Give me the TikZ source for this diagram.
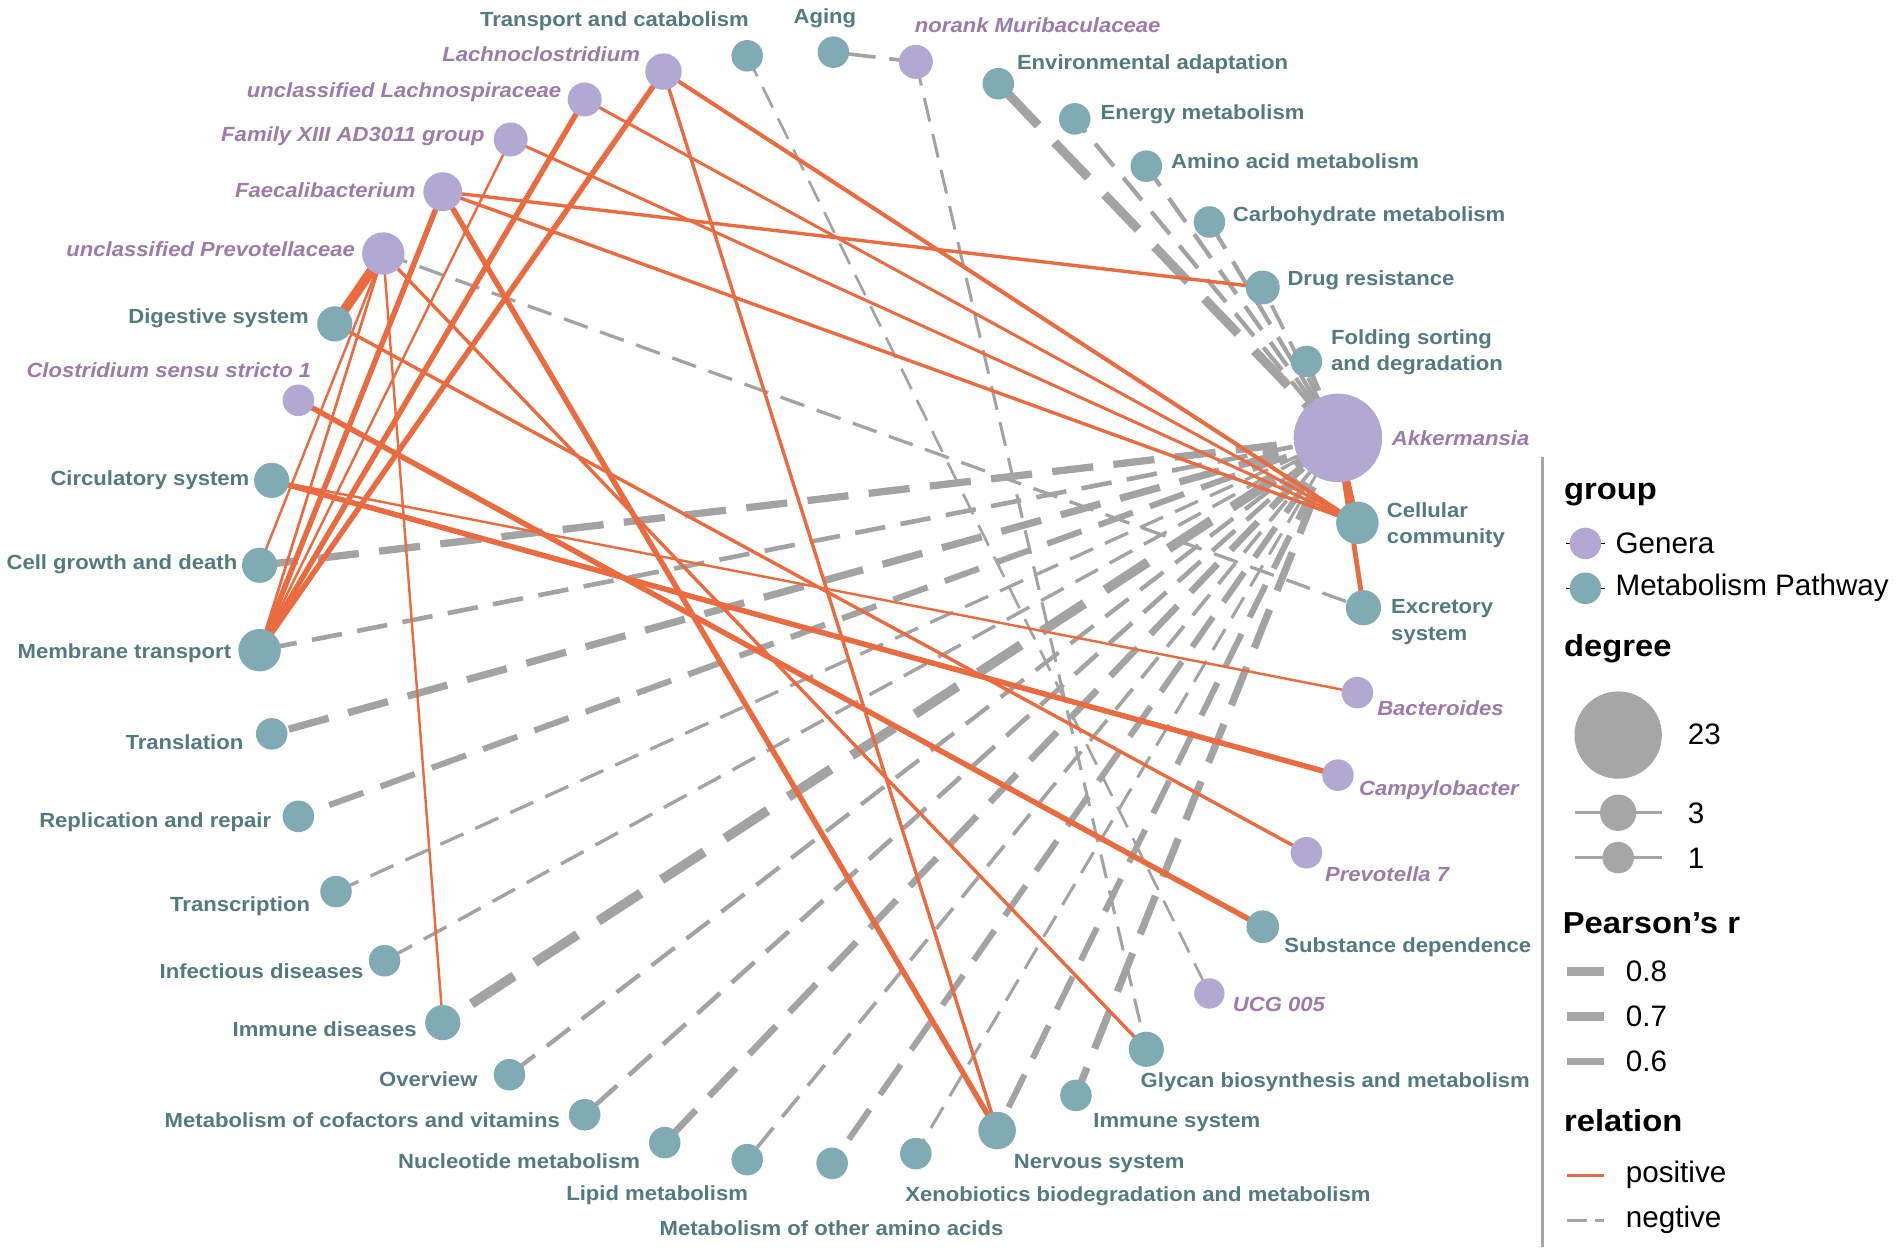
\documentclass[tikz,border=0pt]{standalone}
\usepackage{fontspec}
\setmainfont{Liberation Sans}
\newfontfamily\labfam[FakeStretch=1.08]{Liberation Sans}
\usetikzlibrary{backgrounds}
\definecolor{edgegray}{HTML}{A3A3A3}
\definecolor{edgeorange}{HTML}{E96B3F}
\definecolor{gfill}{HTML}{B1A9D1}
\definecolor{tfill}{HTML}{80ABB4}
\definecolor{gtext}{HTML}{9C7BAA}
\definecolor{ttext}{HTML}{527A80}
\definecolor{leggray}{HTML}{A6A6A6}
\newcommand\mylabfont{\labfam\fontsize{8.43}{11}\selectfont\bfseries}
\newcommand\mytitfont{\labfam\fontsize{12.5}{15}\selectfont\bfseries}
\newcommand\myitemfont{\fontsize{12.2}{14}\selectfont}
\tikzset{
  neg/.code={%
    \pgfmathsetmacro\edW{#1*0.5}%
    \pgfmathsetmacro\edA{(10+4*#1)*0.5}%
    \pgfmathsetmacro\edB{(6+1.8*#1)*0.5}%
    \edef\edTmp{\noexpand\pgfkeysalso{/tikz/draw=edgegray,/tikz/line width=\edW pt,/tikz/dash pattern=on \edA pt off \edB pt}}%
    \edTmp},
  pos/.code={%
    \pgfmathsetmacro\edW{#1*0.5}%
    \edef\edTmp{\noexpand\pgfkeysalso{/tikz/draw=edgeorange,/tikz/line width=\edW pt}}%
    \edTmp},
  gnode/.style={circle, fill=gfill, draw=none, inner sep=0pt, minimum size=#1pt},
  tnode/.style={circle, fill=tfill, draw=none, inner sep=0pt, minimum size=#1pt},
  tlab/.style={font=\mylabfont, text=ttext, inner sep=0pt},
  glab/.style={font=\mylabfont\itshape, text=gtext, inner sep=0pt},
  legtitle/.style={font=\mytitfont, text=black, inner sep=0pt, anchor=base west},
  legitem/.style={font=\myitemfont, text=black, inner sep=0pt, anchor=base west},
}
\begin{document}
\begin{tikzpicture}[x=0.5pt,y=-0.5pt]
\useasboundingbox (0,0) rectangle (1568,1033.8);

% ---------- nodes ----------
\node[tnode=13] (tc) at (616,46) {};
\node[tnode=13] (ag) at (687,43) {};
\node[gnode=14] (nm) at (755,51) {};
\node[gnode=15] (lc) at (547,59) {};
\node[gnode=14] (ul) at (482,82) {};
\node[gnode=14] (fx) at (421,115) {};
\node[gnode=16] (fa) at (365,158) {};
\node[gnode=17.5] (up) at (316,209) {};
\node[tnode=14.5] (ds) at (276,267) {};
\node[gnode=13] (cl) at (246,330) {};
\node[tnode=14.5] (cs) at (224,396) {};
\node[tnode=14.5] (cg) at (214,466) {};
\node[tnode=17.5] (mt) at (214,536) {};
\node[tnode=13] (tr) at (224,605) {};
\node[tnode=13] (rr) at (246,673) {};
\node[tnode=13] (tx) at (277,735) {};
\node[tnode=13] (id) at (317,792) {};
\node[tnode=14.5] (im) at (365,843) {};
\node[tnode=13] (ov) at (420,886) {};
\node[tnode=13] (cf) at (482,919) {};
\node[tnode=13] (nu) at (548,942) {};
\node[tnode=13] (li) at (616,956) {};
\node[tnode=13] (oa) at (686,959) {};
\node[tnode=13] (xe) at (755,951) {};
\node[tnode=15.5] (ns) at (822,932) {};
\node[tnode=13] (is) at (887,903) {};
\node[tnode=14.5] (gl) at (945,865) {};
\node[gnode=12.5] (ucg) at (997,819) {};
\node[tnode=13.5] (sd) at (1041,764) {};
\node[gnode=13] (p7) at (1077,703) {};
\node[gnode=13] (ca) at (1103,639) {};
\node[gnode=13] (ba) at (1119,571) {};
\node[tnode=14.5] (ex) at (1124,501) {};
\node[tnode=17.5] (cc) at (1119,431) {};
\node[gnode=36.5] (ak) at (1103,361) {};
\node[tnode=13] (fo) at (1077,298) {};
\node[tnode=14] (dr) at (1041,237) {};
\node[tnode=13] (ch) at (997,183) {};
\node[tnode=13] (aa) at (945,137) {};
\node[tnode=13] (en) at (886,98) {};
\node[tnode=13] (ea) at (823,69) {};

% ---------- edges ----------
\begin{scope}[on background layer]
\draw[neg=7.5] (ak.center) -- (ea.center);
\draw[neg=3.5] (ak.center) -- (en.center);
\draw[neg=3.5] (ak.center) -- (aa.center);
\draw[neg=3.5] (ak.center) -- (ch.center);
\draw[neg=3] (ak.center) -- (dr.center);
\draw[neg=4.5] (ak.center) -- (fo.center);
\draw[neg=6] (ak.center) -- (cg.center);
\draw[neg=3.8] (ak.center) -- (mt.center);
\draw[neg=6] (ak.center) -- (tr.center);
\draw[neg=5] (ak.center) -- (rr.center);
\draw[neg=2.7] (ak.center) -- (tx.center);
\draw[neg=2.8] (ak.center) -- (id.center);
\draw[neg=8] (ak.center) -- (im.center);
\draw[neg=3.5] (ak.center) -- (ov.center);
\draw[neg=3.8] (ak.center) -- (cf.center);
\draw[neg=5.5] (ak.center) -- (nu.center);
\draw[neg=3] (ak.center) -- (li.center);
\draw[neg=5] (ak.center) -- (oa.center);
\draw[neg=2.5] (ak.center) -- (xe.center);
\draw[neg=5] (ak.center) -- (ns.center);
\draw[neg=6] (ak.center) -- (is.center);
\draw[neg=3] (nm.center) -- (ag.center);
\draw[neg=2.2] (tc.center) -- (ucg.center);
\draw[neg=2.5] (nm.center) -- (gl.center);
\draw[neg=2.7] (up.center) -- (ex.center);
% positive
\draw[pos=8] (up.center) -- (ds.center);
\draw[pos=4.5] (lc.center) -- (mt.center);
\draw[pos=4.5] (ul.center) -- (mt.center);
\draw[pos=4.5] (fa.center) -- (mt.center);
\draw[pos=2] (fx.center) -- (mt.center);
\draw[pos=2.2] (up.center) -- (mt.center);
\draw[pos=2] (up.center) -- (cg.center);
\draw[pos=3.3] (lc.center) -- (cc.center);
\draw[pos=2.5] (ul.center) -- (cc.center);
\draw[pos=2.5] (fx.center) -- (cc.center);
\draw[pos=2.8] (fa.center) -- (cc.center);
\draw[pos=2.8] (fa.center) -- (dr.center);
\draw[pos=2.8] (lc.center) -- (ns.center);
\draw[pos=4.5] (fa.center) -- (ns.center);
\draw[pos=2] (up.center) -- (im.center);
\draw[pos=2.8] (up.center) -- (gl.center);
\draw[pos=2.8] (ds.center) -- (p7.center);
\draw[pos=4.5] (cl.center) -- (sd.center);
\draw[pos=4.5] (cs.center) -- (ca.center);
\draw[pos=2] (cs.center) -- (ba.center);
\draw[pos=4] (ak.center) -- (cc.center);
\draw[pos=4] (ak.center) -- (ex.center);
\end{scope}

% ---------- labels ----------
\node[tlab, anchor=base] (tcL) at (506.5,21.5) {Transport and catabolism};
\node[tlab, anchor=base] (agL) at (680,19) {Aging};
\node[glab, anchor=base] (nmL) at (855.5,26.5) {norank Muribaculaceae};
\node[glab, anchor=base east] (lcL) at (528,50.5) {Lachnoclostridium};
\node[glab, anchor=base east] (ulL) at (463,80.5) {unclassified Lachnospiraceae};
\node[glab, anchor=base east] (fxL) at (400,116.5) {Family XIII AD3011 group};
\node[glab, anchor=base east] (faL) at (343,162.5) {Faecalibacterium};
\node[glab, anchor=base east] (upL) at (293,211.5) {unclassified Prevotellaceae};
\node[tlab, anchor=base east] (dsL) at (255,266.5) {Digestive system};
\node[glab, anchor=base east] (clL) at (257,311.5) {Clostridium sensu stricto 1};
\node[tlab, anchor=base east] (csL) at (206,400.5) {Circulatory system};
\node[tlab, anchor=base east] (cgL) at (196,469.5) {Cell growth and death};
\node[tlab, anchor=base east] (mtL) at (191,542.5) {Membrane transport};
\node[tlab, anchor=base east] (trL) at (201,617.5) {Translation};
\node[tlab, anchor=base east] (rrL) at (224,682.5) {Replication and repair};
\node[tlab, anchor=base east] (txL) at (256,751.5) {Transcription};
\node[tlab, anchor=base east] (idL) at (300,806.5) {Infectious diseases};
\node[tlab, anchor=base east] (imL) at (344,854.5) {Immune diseases};
\node[tlab, anchor=base east] (ovL) at (394,895.5) {Overview};
\node[tlab, anchor=base east] (cfL) at (462,929.5) {Metabolism of cofactors and vitamins};
\node[tlab, anchor=base east] (nuL) at (528,963.5) {Nucleotide metabolism};
\node[tlab, anchor=base east] (liL) at (617,990) {Lipid metabolism};
\node[tlab, anchor=base] (oaL) at (685.5,1018.5) {Metabolism of other amino acids};
\node[tlab, anchor=base west] (xeL) at (746,990.5) {Xenobiotics biodegradation and metabolism};
\node[tlab, anchor=base west] (nsL) at (835.5,963.5) {Nervous system};
\node[tlab, anchor=base west] (isL) at (901,929.5) {Immune system};
\node[tlab, anchor=base west] (glL) at (940,896.5) {Glycan biosynthesis and metabolism};
\node[glab, anchor=base west] (ucgL) at (1016,833.5) {UCG 005};
\node[tlab, anchor=base west] (sdL) at (1058.5,785.5) {Substance dependence};
\node[glab, anchor=base west] (p7L) at (1092,726.5) {Prevotella 7};
\node[glab, anchor=base west] (caL) at (1120,655.5) {Campylobacter};
\node[glab, anchor=base west] (baL) at (1135,589.5) {Bacteroides};
\node[tlab, anchor=west, align=left] (exL) at (1146.5,513) {Excretory\\system};
\node[tlab, anchor=west, align=left] (ccL) at (1143,433) {Cellular\\community};
\node[glab, anchor=base west] (akL) at (1147,367.5) {Akkermansia};
\node[tlab, anchor=west, align=left] (foL) at (1097,290.5) {Folding sorting\\and degradation};
\node[tlab, anchor=base west] (drL) at (1061,235.5) {Drug resistance};
\node[tlab, anchor=base west] (chL) at (1016,182.5) {Carbohydrate metabolism};
\node[tlab, anchor=base west] (aaL) at (965,138.5) {Amino acid metabolism};
\node[tlab, anchor=base west] (enL) at (907,98.5) {Energy metabolism};
\node[tlab, anchor=base west] (eaL) at (838,57.5) {Environmental adaptation};

% ---------- legend ----------
\coordinate (sepTop) at (1272,377);
\coordinate (sepBot) at (1272,1028);
\draw[leggray, line width=1.25pt] (sepTop) -- (sepBot);

\node[legtitle] (tGroup) at (1289,412) {group};
\coordinate (kg1a) at (1291,448); \coordinate (kg1b) at (1323,448);
\draw[black, line width=0.5pt] (kg1a) -- (kg1b);
\node[gnode=13] (kGen) at (1307,448) {};
\node[legitem] (lGen) at (1331.5,456.2) {Genera};
\coordinate (kg2a) at (1291,485); \coordinate (kg2b) at (1323,485);
\draw[black, line width=0.5pt] (kg2a) -- (kg2b);
\node[tnode=13] (kMet) at (1307,485) {};
\node[legitem] (lMet) at (1331.5,491) {Metabolism Pathway};

\node[legtitle] (tDeg) at (1289,541.6) {degree};
\node[circle, fill=leggray, inner sep=0pt, minimum size=36pt] (kD23) at (1334,606) {};
\node[legitem] (lD23) at (1391,614) {23};
\coordinate (kd3a) at (1298,670); \coordinate (kd3b) at (1370,670);
\draw[leggray, line width=1.25pt] (kd3a) -- (kd3b);
\node[circle, fill=leggray, inner sep=0pt, minimum size=15pt] (kD3) at (1334,670) {};
\node[legitem] (lD3) at (1391,678.5) {3};
\coordinate (kd1a) at (1298,707); \coordinate (kd1b) at (1370,707);
\draw[leggray, line width=1.25pt] (kd1a) -- (kd1b);
\node[circle, fill=leggray, inner sep=0pt, minimum size=13pt] (kD1) at (1334,707) {};
\node[legitem] (lD1) at (1391,715.6) {1};

\node[legtitle] (tPr) at (1288,769.5) {Pearson’s r};
\coordinate (kp8a) at (1292,801); \coordinate (kp8b) at (1322,801);
\draw[leggray, line width=4pt] (kp8a) -- (kp8b);
\node[legitem] (lP8) at (1340,809.5) {0.8};
\coordinate (kp7a) at (1292,838); \coordinate (kp7b) at (1322,838);
\draw[leggray, line width=3.4pt] (kp7a) -- (kp7b);
\node[legitem] (lP7) at (1340,846.6) {0.7};
\coordinate (kp6a) at (1292,875); \coordinate (kp6b) at (1322,875);
\draw[leggray, line width=2.8pt] (kp6a) -- (kp6b);
\node[legitem] (lP6) at (1340,883.6) {0.6};

\node[legtitle] (tRel) at (1289,932.5) {relation};
\coordinate (krpa) at (1292,969); \coordinate (krpb) at (1322,969);
\draw[edgeorange, line width=1pt] (krpa) -- (krpb);
\node[legitem] (lPos) at (1340,975) {positive};
\coordinate (krna) at (1292,1006); \coordinate (krnb) at (1322,1006);
\draw[leggray, line width=1pt, dash pattern=on 8pt off 3.5pt] (krna) -- (krnb);
\node[legitem] (lNeg) at (1340,1012) {negtive};
\end{tikzpicture}
\end{document}
